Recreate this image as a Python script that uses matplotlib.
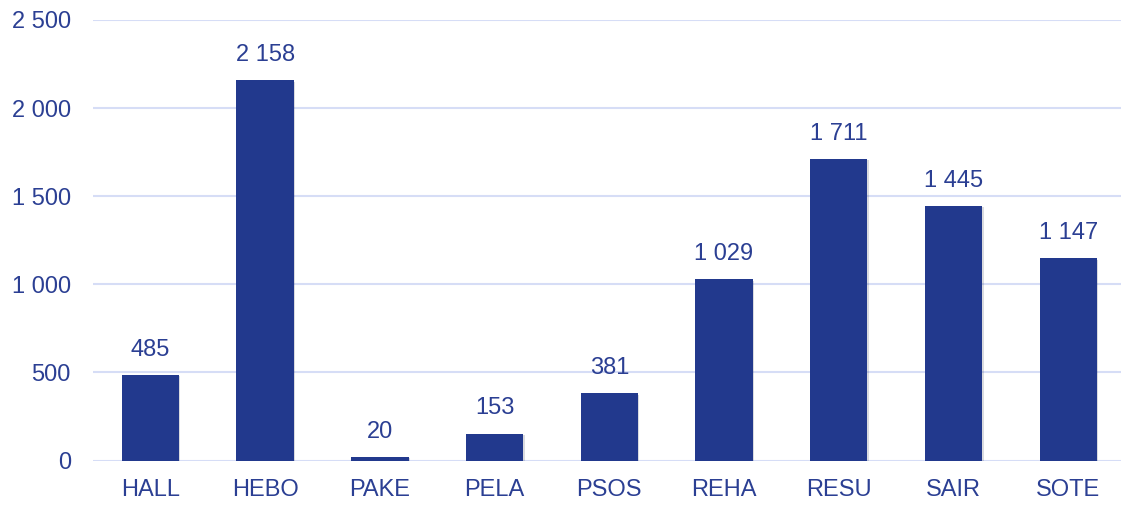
import matplotlib
matplotlib.use("Agg")
import matplotlib.pyplot as plt
import matplotlib.patheffects as pe

categories = ["HALL", "HEBO", "PAKE", "PELA", "PSOS", "REHA", "RESU", "SAIR", "SOTE"]
values = [485, 2158, 20, 153, 381, 1029, 1711, 1445, 1147]
yticks = [0, 500, 1000, 1500, 2000, 2500]

bar_color = "#22398d"
text_color = "#2b3f93"
grid_color = "#d6ddf6"

plt.rcParams["font.family"] = ["Liberation Sans", "DejaVu Sans"]


def fmt(v):
    return f"{v:,}".replace(",", " ")


fig = plt.figure(figsize=(11.21, 5.05), dpi=100)
ax = fig.add_axes([93 / 1121, 44.5 / 505, (1121 - 93) / 1121, 440.5 / 505])

x = range(len(categories))
bars = ax.bar(x, values, width=0.5, color=bar_color, zorder=3,
              path_effects=[pe.SimplePatchShadow(offset=(1, -1), alpha=0.15), pe.Normal()])

for xi, v in zip(x, values):
    ax.text(xi, v + 80, fmt(v), ha="center", va="bottom", fontsize=17, color=text_color)

ax.set_xlim(-0.5, 8.46)
ax.set_ylim(0, 2500)
ax.set_yticks(yticks)
ax.set_yticklabels([fmt(t) for t in yticks])
ax.set_xticks(list(x))
ax.set_xticklabels(categories)
ax.tick_params(axis="both", length=0, labelsize=17, labelcolor=text_color)
ax.tick_params(axis="y", pad=16)
ax.tick_params(axis="x", pad=13)
ax.yaxis.grid(True, color=grid_color, linewidth=1.5, zorder=0)
for s in ax.spines.values():
    s.set_visible(False)

fig.savefig("out.png", dpi=100)
